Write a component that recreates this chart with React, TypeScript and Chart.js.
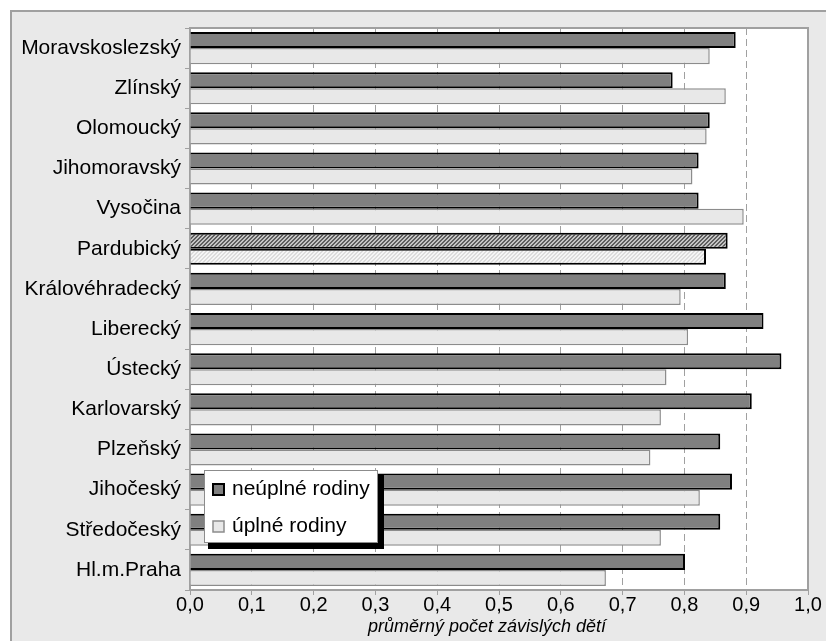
import React, { useEffect, useRef } from "react";
import { Chart, registerables } from "chart.js";

Chart.register(...registerables);

// ---- data ----
const regions = [
  "Moravskoslezský",
  "Zlínský",
  "Olomoucký",
  "Jihomoravský",
  "Vysočina",
  "Pardubický",
  "Královéhradecký",
  "Liberecký",
  "Ústecký",
  "Karlovarský",
  "Plzeňský",
  "Jihočeský",
  "Středočeský",
  "Hl.m.Praha",
];
const incompleteFamilies = [0.883, 0.781, 0.841, 0.823, 0.823, 0.87, 0.867, 0.928, 0.957, 0.909, 0.858, 0.877, 0.858, 0.801];
const completeFamilies = [0.841, 0.867, 0.836, 0.813, 0.896, 0.835, 0.794, 0.806, 0.771, 0.762, 0.745, 0.825, 0.762, 0.673];
const seriesLabels = ["neúplné rodiny", "úplné rodiny"];
const axisTitle = "průměrný počet závislých dětí";
const xMin = 0;
const xMax = 1;
const xStep = 0.1;
const highlightedRegion = "Pardubický";

const FONT = "'Liberation Sans', Arial, sans-serif";
const DARK = "#808080";
const LIGHT = "#e8e8e8";
const GRAY_LINE = "#a0a0a0";

function makePattern(dark: string, light: string): CanvasPattern | string {
  const c = document.createElement("canvas");
  c.width = 4;
  c.height = 4;
  const g = c.getContext("2d");
  if (!g) return dark;
  for (let y = 0; y < 4; y++) {
    for (let x = 0; x < 4; x++) {
      g.fillStyle = (x + y) % 4 < 2 ? dark : light;
      g.fillRect(x, y, 1, 1);
    }
  }
  const p = g.createPattern(c, "repeat");
  return p || dark;
}

const framePlugin = {
  id: "frame",
  beforeDraw(chart: any) {
    const { ctx, width, height, chartArea } = chart;
    ctx.save();
    ctx.fillStyle = "#ffffff";
    ctx.fillRect(0, 0, width, height);
    ctx.fillStyle = "#e9e9e9";
    ctx.fillRect(10, 10, width - 10, height - 10);
    ctx.strokeStyle = GRAY_LINE;
    ctx.lineWidth = 2;
    ctx.beginPath();
    ctx.moveTo(11, height);
    ctx.lineTo(11, 11);
    ctx.lineTo(width, 11);
    ctx.stroke();
    ctx.fillStyle = "#ffffff";
    ctx.fillRect(chartArea.left, chartArea.top, chartArea.right - chartArea.left, chartArea.bottom - chartArea.top);
    ctx.restore();
  },
  afterDatasetsDraw(chart: any) {
    const { ctx, chartArea } = chart;
    ctx.save();
    ctx.strokeStyle = GRAY_LINE;
    ctx.lineWidth = 2;
    ctx.beginPath();
    ctx.moveTo(chartArea.left, chartArea.top);
    ctx.lineTo(chartArea.right, chartArea.top);
    ctx.lineTo(chartArea.right, chartArea.bottom);
    ctx.stroke();
    ctx.restore();
  },
  afterDraw(chart: any) {
    const { ctx } = chart;
    ctx.save();
    // axis title
    ctx.fillStyle = "#000";
    ctx.font = `italic 18px ${FONT}`;
    ctx.textAlign = "center";
    ctx.textBaseline = "middle";
    ctx.fillText(axisTitle, 487, 627);

    // legend
    const bx = 204, by = 470, bw = 174, bh = 73;
    ctx.fillStyle = "#000";
    ctx.fillRect(bx + 4, by + 4, bw + 2, bh + 2);
    ctx.fillStyle = "#fff";
    ctx.fillRect(bx, by, bw, bh);
    ctx.strokeStyle = "#8c8c8c";
    ctx.lineWidth = 1;
    ctx.strokeRect(bx + 0.5, by + 0.5, bw - 1, bh - 1);
    const swatches = [
      { fill: DARK, stroke: "#000", lw: 2 },
      { fill: LIGHT, stroke: "#8c8c8c", lw: 1.5 },
    ];
    chart.data.datasets.forEach((ds: any, i: number) => {
      const cy = by + 19 + i * 37;
      const s = swatches[i];
      ctx.fillStyle = s.fill;
      ctx.fillRect(bx + 9, cy - 5, 11, 11);
      ctx.strokeStyle = s.stroke;
      ctx.lineWidth = s.lw;
      ctx.strokeRect(bx + 9, cy - 5, 11, 11);
      ctx.fillStyle = "#000";
      ctx.font = `21px ${FONT}`;
      ctx.textBaseline = "middle";
      ctx.textAlign = "left";
      ctx.fillText(ds.label, bx + 28, cy);
    });
    ctx.restore();
  },
};

export default function App() {
  const ref = useRef<HTMLCanvasElement | null>(null);

  useEffect(() => {
    const canvas = ref.current;
    if (!canvas) return;
    const hi = regions.indexOf(highlightedRegion);
    const darkPat = makePattern("#5e5e5e", "#c4c4c4");
    const lightPat = makePattern("#dcdcdc", "#f6f6f6");

    const chart = new Chart(canvas, {
      type: "bar",
      data: {
        labels: regions,
        datasets: [
          {
            label: seriesLabels[0],
            data: incompleteFamilies,
            backgroundColor: regions.map((_, i) => (i === hi ? darkPat : DARK)) as any,
            borderColor: "#000",
            borderWidth: 2,
          },
          {
            label: seriesLabels[1],
            data: completeFamilies,
            backgroundColor: regions.map((_, i) => (i === hi ? lightPat : LIGHT)) as any,
            borderColor: regions.map((_, i) => (i === hi ? "#000" : "#8c8c8c")),
            borderWidth: regions.map((_, i) => (i === hi ? 2 : 1.5)) as any,
          },
        ],
      },
      options: {
        indexAxis: "y",
        responsive: false,
        animation: false,
        devicePixelRatio: 1,
        categoryPercentage: 0.8,
        barPercentage: 1.0,
        layout: { padding: { left: 0, right: 18, top: 28, bottom: 0 } },
        plugins: {
          legend: { display: false },
          tooltip: { enabled: false },
        },
        scales: {
          x: {
            min: xMin,
            max: xMax,
            ticks: {
              stepSize: xStep,
              color: "#000",
              font: { family: FONT, size: 20 },
              padding: -2,
              callback: (v: any) => Number(v).toFixed(1).replace(".", ","),
            },
            grid: {
              color: GRAY_LINE,
              lineWidth: 1,
              tickLength: 5,
              tickColor: GRAY_LINE,
              tickWidth: 1,
              tickBorderDash: [],
            } as any,
            border: { color: GRAY_LINE, width: 2, dash: [7, 4] } as any,
            afterFit: (s: any) => {
              s.height = 51;
            },
          },
          y: {
            ticks: {
              color: "#000",
              font: { family: FONT, size: 21 },
              padding: 4,
            },
            grid: {
              drawOnChartArea: false,
              tickLength: 5,
              tickColor: GRAY_LINE,
              tickWidth: 1,
            },
            border: { color: GRAY_LINE, width: 2 },
            afterFit: (s: any) => {
              s.width = 190;
            },
          },
        },
      },
      plugins: [framePlugin],
    });

    return () => chart.destroy();
  }, []);

  return (
    <div style={{ position: "absolute", left: 0, top: 0, width: 826, height: 641 }}>
      <canvas ref={ref} width={826} height={641} style={{ display: "block", width: 826, height: 641 }} />
    </div>
  );
}
